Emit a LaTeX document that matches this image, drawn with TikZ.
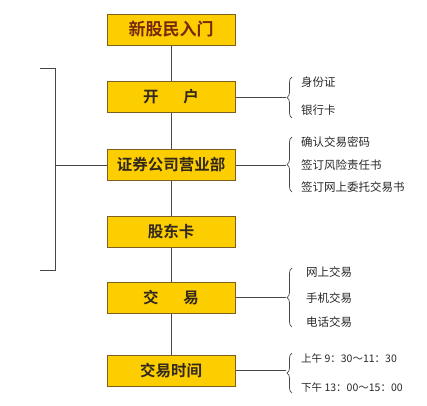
\documentclass[tikz,border=0pt]{standalone}
\usepackage{fontspec}
\newfontfamily\cjk{Noto Sans CJK SC}
\newfontfamily\cjkb{Noto Sans CJK SC Bold}
\usetikzlibrary{positioning, decorations.pathreplacing}
\definecolor{boxfill}{RGB}{252,206,0}
\definecolor{boxline}{RGB}{125,95,35}
\definecolor{titletext}{RGB}{120,40,15}
\definecolor{boxtext}{RGB}{50,40,30}
\definecolor{linegray}{RGB}{70,70,70}
\definecolor{sidetext}{RGB}{40,40,40}

\begin{document}
\begin{tikzpicture}[x=1pt, y=-1pt,
  box/.style={draw=boxline, line width=1pt, fill=boxfill, minimum width=128pt, minimum height=31pt, inner sep=0pt, font=\cjkb\fontsize{15.5}{15.5}\selectfont, text=boxtext},
  side/.style={anchor=west, inner sep=0pt, font=\cjk\fontsize{11.5}{11.5}\selectfont, text=sidetext},
  link/.style={draw=linegray, line width=1pt},
  curly/.style={decorate, decoration={brace, amplitude=5pt}, draw=linegray, line width=0.7pt}]
\useasboundingbox (0,0) rectangle (427,405);
% main column
\node [box, text=titletext, font=\cjkb\fontsize{17}{17}\selectfont] (rumen) at (171,29.5) {新股民入门};
\node [box] (kaihu) at (171,97) {开\hspace{1.6em}户};
\node [box] (yingye) at (171,165) {证券公司营业部};
\node [box] (gudong) at (171,231.5) {股东卡};
\node [box] (jiaoyi) at (171,297.5) {交\hspace{1.6em}易};
\node [box] (shijian) at (171,370.5) {交易时间};
\draw [link] (rumen) -- (kaihu);
\draw [link] (kaihu) -- (yingye);
\draw [link] (yingye) -- (gudong);
\draw [link] (gudong) -- (jiaoyi);
\draw [link] (jiaoyi) -- (shijian);
% left bracket
\coordinate (lt) at (40,68);
\coordinate (lb) at (40,270);
\draw [link, line width=0.8pt] (lt) -- (55,68) -- (55,270) -- (lb);
\draw [link, line width=0.8pt] (55,165) -- (yingye.west);
% right side
\coordinate (k) at (286,97);
\coordinate (y) at (286,165);
\coordinate (j) at (286,297.5);
\coordinate (s) at (286,370.5);
\draw [link, line width=0.8pt] (kaihu.east) -- (k);
\draw [link, line width=0.8pt] (yingye.east) -- (y);
\draw [link, line width=0.8pt] (jiaoyi.east) -- (j);
\draw [link, line width=0.8pt] (shijian.east) -- (s);
\draw [curly] (292,118) -- (292,77);
\draw [curly] (292,192) -- (292,137);
\draw [curly] (292,327) -- (292,268);
\draw [curly] (292,393) -- (292,353);
\node [side] (sfz) at (301,82) {身份证};
\node [side] (yhk) at (301,110) {银行卡};
\node [side] (mima) at (301,142) {确认交易密码};
\node [side] (fengxian) at (301,165) {签订风险责任书};
\node [side] (weituo) at (301,187) {签订网上委托交易书};
\node [side] (wangshang) at (306,272) {网上交易};
\node [side] (shouji) at (306,298) {手机交易};
\node [side] (dianhua) at (306,322) {电话交易};
\node [side, font=\cjk\fontsize{10.5}{10.5}\selectfont] (shangwu) at (301,358) {上午 9：30～11：30};
\node [side, font=\cjk\fontsize{10.5}{10.5}\selectfont] (xiawu) at (301,387) {下午 13：00～15：00};
\end{tikzpicture}
\end{document}
